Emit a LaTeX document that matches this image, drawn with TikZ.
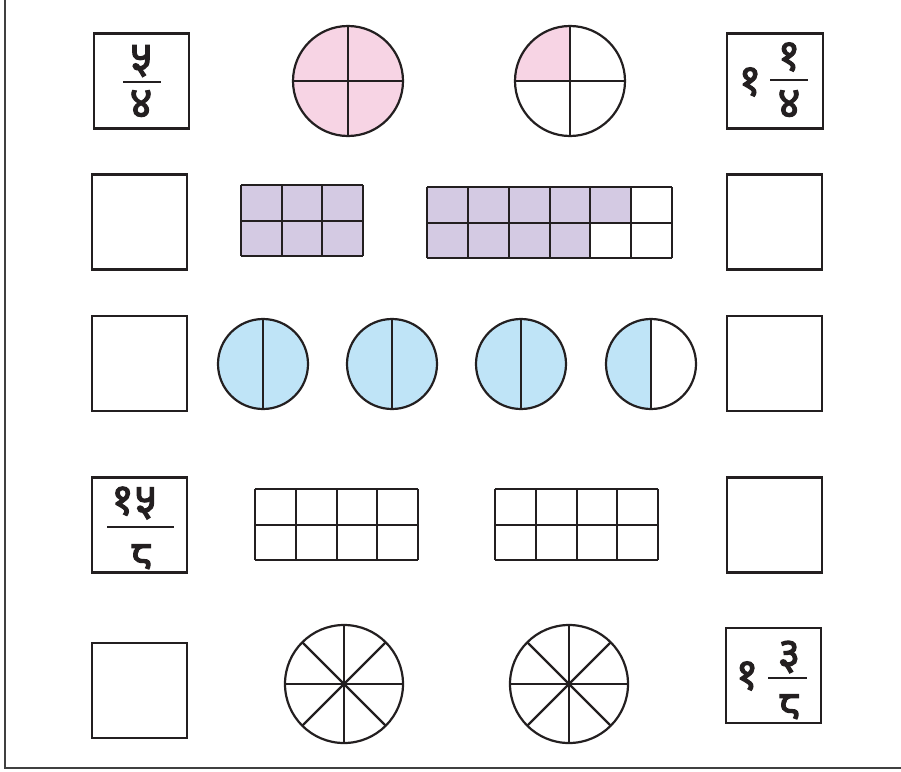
\documentclass[tikz,border=0pt]{standalone}
\usepackage{fontspec}
\usetikzlibrary{calc}
\newfontfamily\deva[Script=Devanagari, Language=Nepali, FakeBold=2.5]{Noto Sans}
\definecolor{pinkf}{HTML}{F7D4E4}
\definecolor{purf}{HTML}{D4CAE3}
\definecolor{bluef}{HTML}{BFE4F7}
\definecolor{ink}{HTML}{231F20}
\tikzset{
  answerbox/.style={draw=ink, line width=2.6pt, minimum width=95pt, minimum height=95pt, inner sep=0pt},
  num/.style={font=\deva\fontsize{44}{48}\selectfont, inner sep=0pt, text=ink},
  fracbar/.style={draw=ink, line width=1.8pt},
  shapeline/.style={draw=ink, line width=2.2pt},
  gridline/.style={draw=ink, line width=2pt},
}
\begin{document}
\begin{tikzpicture}[x=1pt, y=-1pt]
\useasboundingbox (0,0) rectangle (901,771);
% frame
\draw[draw=black!75, line width=2pt] (5,0) -- (5,768) -- (901,768);

% boxes
\node[answerbox] (b1l) at (141.5,81) {};
\node[answerbox, minimum width=96pt] (b1r) at (775,81) {};
\node[answerbox] (b2l) at (139.5,222) {};
\node[answerbox] (b2r) at (774.5,222) {};
\node[answerbox] (b3l) at (139.5,363.5) {};
\node[answerbox] (b3r) at (774.5,363.5) {};
\node[answerbox] (b4l) at (139.5,525) {};
\node[answerbox] (b4r) at (774.5,525) {};
\node[answerbox] (b5l) at (139.5,690.5) {};
\node[answerbox] (b5r) at (773.5,675.5) {};

% fractions
\node[num] (n1) at (141,61) {५};
\node[num] (d1) at (141,104) {४};
\draw[fracbar] (123,82) -- (161,82);

\node[num] (w2) at (750,82) {१};
\node[num] (n2) at (789,57) {१};
\node[num] (d2) at (789,104) {४};
\draw[fracbar] (770,80) -- (808,80);

\node[num] (n4) at (134,503) {१५};
\node[num] (d4) at (141,557) {८};
\draw[fracbar] (107,527) -- (174,527);

\node[num] (w5) at (747,676) {१};
\node[num] (n5) at (789,657) {३};
\node[num] (d5) at (789,707) {८};
\draw[fracbar] (768,678) -- (807,678);

% row 1 circles
\coordinate (c1) at (348,81);
\coordinate (c2) at (570,81);
\fill[pinkf] (c1) circle[radius=55];
\draw[shapeline] (c1) circle[radius=55];
\draw[shapeline] ($(c1)+(-55,0)$) -- ($(c1)+(55,0)$);
\draw[shapeline] ($(c1)+(0,-55)$) -- ($(c1)+(0,55)$);
\fill[pinkf] (c2) -- ++(-55,0) arc[start angle=180, end angle=270, radius=55] -- cycle;
\draw[shapeline] (c2) circle[radius=55];
\draw[shapeline] ($(c2)+(-55,0)$) -- ($(c2)+(55,0)$);
\draw[shapeline] ($(c2)+(0,-55)$) -- ($(c2)+(0,55)$);

% row 2 grids
\fill[purf] (241,185) rectangle (363,256);
\foreach \i in {0,...,3} \draw[gridline] ({241+\i*122/3},185) -- ({241+\i*122/3},256);
\foreach \j in {0,1,2} \draw[gridline] (241,{185+\j*35.5}) -- (363,{185+\j*35.5});

\fill[purf] (427,187) rectangle ({427+5*245/6},222.5);
\fill[purf] (427,222.5) rectangle ({427+4*245/6},258);
\foreach \i in {0,...,6} \draw[gridline] ({427+\i*245/6},187) -- ({427+\i*245/6},258);
\foreach \j in {0,1,2} \draw[gridline] (427,{187+\j*35.5}) -- (672,{187+\j*35.5});

% row 3 halves
\foreach \x in {263,392,521} {
  \fill[bluef] (\x,364) circle[radius=45];
  \draw[shapeline] (\x,364) circle[radius=45];
  \draw[shapeline] (\x,319) -- (\x,409);
}
\fill[bluef] (651,364) -- (651,319) arc[start angle=270, end angle=90, radius=45] -- cycle;
\draw[shapeline] (651,364) circle[radius=45];
\draw[shapeline] (651,319) -- (651,409);

% row 4 grids
\foreach \x in {255,495} {
  \foreach \i in {0,...,4} \draw[gridline] ({\x+\i*163/4},489) -- ({\x+\i*163/4},560);
  \foreach \j in {0,1,2} \draw[gridline] (\x,{489+\j*35.5}) -- ({\x+163},{489+\j*35.5});
}

% row 5 pies
\foreach \x in {344,569} {
  \draw[shapeline] (\x,684) circle[radius=59];
  \foreach \a in {0,45,90,135} \draw[shapeline] ($(\x,684)+(\a:59)$) -- ($(\x,684)+(\a+180:59)$);
}
\end{tikzpicture}
\end{document}
